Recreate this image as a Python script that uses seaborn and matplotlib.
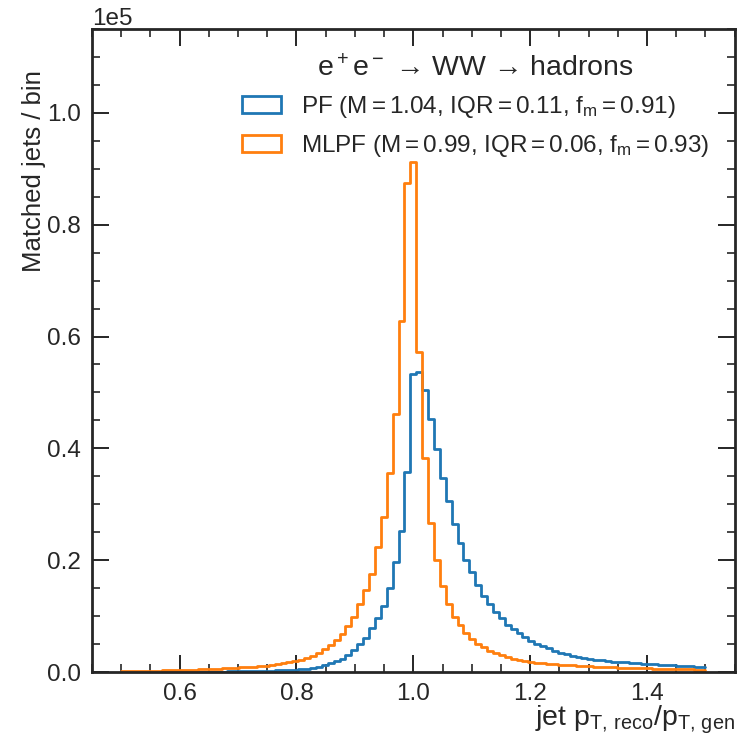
import numpy as np
import pandas as pd
import matplotlib
matplotlib.use("Agg")
import matplotlib.pyplot as plt
from matplotlib.patches import Patch
from matplotlib.ticker import MultipleLocator
import seaborn as sns

# ---- data (bin contents, units of 1e5 jets) ----
bin_lo, bin_hi, n_edges = 0.5, 1.5, 100

pf_counts = [
    0.0002, 0.0002, 0.0002, 0.0002, 0.0003, 0.0003, 0.0003, 0.0003, 0.0004, 0.0004,
    0.0004, 0.0005, 0.0005, 0.0006, 0.0006, 0.0007, 0.0008, 0.0009, 0.0010, 0.0011,
    0.0012, 0.0014, 0.0016, 0.0019, 0.0022, 0.0025, 0.0029, 0.0033, 0.0038, 0.0044,
    0.0052, 0.0062, 0.0075, 0.0095, 0.0120, 0.0155, 0.0190, 0.0240, 0.0310, 0.0400,
    0.0500, 0.0610, 0.0780, 0.0960, 0.1180, 0.1510, 0.1960, 0.2520, 0.3580, 0.5330,
    0.5360, 0.5050, 0.4520, 0.3990, 0.3470, 0.3050, 0.2650, 0.2310, 0.2010, 0.1780,
    0.1560, 0.1360, 0.1210, 0.1080, 0.0960, 0.0840, 0.0770, 0.0690, 0.0620, 0.0560,
    0.0510, 0.0470, 0.0425, 0.0380, 0.0346, 0.0317, 0.0290, 0.0270, 0.0250, 0.0235,
    0.0222, 0.0210, 0.0198, 0.0188, 0.0179, 0.0171, 0.0163, 0.0156, 0.0150, 0.0143,
    0.0136, 0.0130, 0.0124, 0.0118, 0.0112, 0.0106, 0.0100, 0.0094, 0.0088,
]

mlpf_counts = [
    0.0015, 0.0017, 0.0019, 0.0021, 0.0023, 0.0025, 0.0027, 0.0029, 0.0031, 0.0034,
    0.0037, 0.0040, 0.0043, 0.0046, 0.0050, 0.0054, 0.0059, 0.0064, 0.0069, 0.0075,
    0.0082, 0.0089, 0.0097, 0.0106, 0.0116, 0.0127, 0.0140, 0.0155, 0.0172, 0.0192,
    0.0215, 0.0245, 0.0280, 0.0340, 0.0410, 0.0490, 0.0580, 0.0680, 0.0820, 0.0990,
    0.1210, 0.1470, 0.1750, 0.2240, 0.2780, 0.3560, 0.4620, 0.6280, 0.8750, 0.9130,
    0.5730, 0.3820, 0.2660, 0.2010, 0.1540, 0.1220, 0.0990, 0.0840, 0.0690, 0.0590,
    0.0500, 0.0440, 0.0380, 0.0340, 0.0300, 0.0270, 0.0240, 0.0220, 0.0200, 0.0180,
    0.0170, 0.0160, 0.0150, 0.0140, 0.0130, 0.0125, 0.0120, 0.0113, 0.0107, 0.0102,
    0.0097, 0.0092, 0.0088, 0.0084, 0.0080, 0.0076, 0.0073, 0.0070, 0.0067, 0.0064,
    0.0061, 0.0058, 0.0056, 0.0053, 0.0051, 0.0049, 0.0047, 0.0045, 0.0043,
]

series_names = ["PF", "MLPF"]
series_labels = [
    r"PF ($M=1.04$, $IQR=0.11$, $f_m=0.91$)",
    r"MLPF ($M=0.99$, $IQR=0.06$, $f_m=0.93$)",
]
series_colors = ["#1f77b4", "#ff7f0e"]
legend_title = "$e^+e^-$ \u2192 WW \u2192 hadrons"
x_label = r"jet $p_{T,\,reco}/p_{T,\,gen}$"
y_label = "Matched jets / bin"

# ---- build table ----
edges = list(np.linspace(bin_lo, bin_hi, n_edges))
centers = [0.5 * (a + b) for a, b in zip(edges[:-1], edges[1:])]
df = pd.DataFrame({
    "ratio": centers,
    "PF": np.array(pf_counts) * 1e5,
    "MLPF": np.array(mlpf_counts) * 1e5,
})

sns.set_style("ticks")
plt.rcParams["font.family"] = ["Liberation Sans", "DejaVu Sans"]
plt.rcParams["mathtext.fontset"] = "custom"
plt.rcParams["mathtext.rm"] = "Liberation Sans"
plt.rcParams["mathtext.it"] = "Liberation Sans:italic"
plt.rcParams["mathtext.bf"] = "Liberation Sans:bold"
plt.rcParams["mathtext.default"] = "regular"

fig = plt.figure(figsize=(7.37, 7.38), dpi=100)
ax = fig.add_axes([0.1248, 0.0894, 0.872, 0.8713])

for name, col in zip(series_names, series_colors):
    sns.histplot(data=df, x="ratio", weights=name, bins=edges, element="step",
                 fill=False, color=col, linewidth=2.0, ax=ax)

ax.set_xlim(0.45, 1.55)
ax.set_ylim(0, 115000)
ax.xaxis.set_major_locator(MultipleLocator(0.2))
ax.xaxis.set_minor_locator(MultipleLocator(0.05))
ax.yaxis.set_major_locator(MultipleLocator(20000))
ax.yaxis.set_minor_locator(MultipleLocator(5000))
ax.ticklabel_format(axis="y", style="sci", scilimits=(0, 0))
ax.yaxis.get_offset_text().set_fontsize(17.5)

ax.tick_params(which="both", direction="in", top=True, right=True, labelsize=17.5)
ax.tick_params(which="major", length=12, width=1.4, pad=8)
ax.tick_params(which="minor", length=6, width=1.2)
for s in ax.spines.values():
    s.set_linewidth(2.0)

ax.set_xlabel(x_label, fontsize=20.5, loc="right")
ax.xaxis.set_label_coords(1.0, -0.05)
ax.set_ylabel(y_label, fontsize=18.5, loc="top")
ax.yaxis.set_label_coords(-0.072, 0.936)

handles = [Patch(facecolor="none", edgecolor=c, linewidth=2.0) for c in series_colors]
leg = ax.legend(handles, series_labels, title=legend_title, loc="upper right",
                fontsize=17.5, title_fontsize=20.5, frameon=False,
                handlelength=1.6, handleheight=0.7, handletextpad=0.82,
                labelspacing=0.52, borderaxespad=0.65)

fig.savefig("out.png", dpi=100)
